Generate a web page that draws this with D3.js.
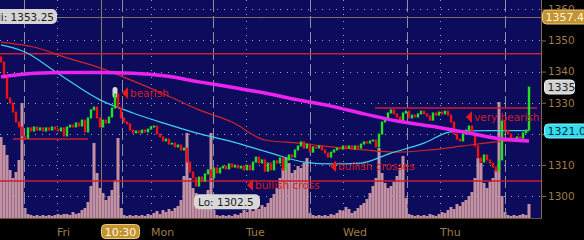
<!DOCTYPE html>
<html>
<head>
<meta charset="utf-8">
<script src="https://cdn.jsdelivr.net/npm/d3@7"></script>
<style>
html, body { margin: 0; padding: 0; background: #000; }
svg { display: block; font-family: "DejaVu Sans", sans-serif; }
</style>
</head>
<body>
<script>
// price bars (closes), one per bar, plus the open of the very first bar
var firstOpen = 1344.7;
var closes = [
  1343.1, 1337.9, 1331.5, 1329.9, 1327.0, 1323.8, 1322.2, 1319.3, 1318.6, 1321.9,
  1320.9, 1322.2, 1321.2, 1321.9, 1320.9, 1321.9, 1321.2, 1322.2, 1321.5, 1320.9,
  1321.9, 1319.3, 1322.2, 1322.8, 1322.2, 1323.5, 1322.5, 1324.4, 1320.6, 1325.1,
  1327.7, 1328.6, 1325.1, 1322.2, 1324.4, 1323.5, 1325.4, 1328.3, 1332.8, 1328.3,
  1325.1, 1323.8, 1323.2, 1321.2, 1320.3, 1320.9, 1320.3, 1321.2, 1320.6, 1321.5,
  1322.2, 1322.5, 1319.9, 1319.0, 1317.7, 1318.3, 1316.7, 1317.0, 1315.8, 1316.4,
  1314.8, 1315.4, 1310.9, 1307.7, 1305.8, 1303.2, 1306.1, 1304.8, 1307.1, 1308.4,
  1305.8, 1309.0, 1307.4, 1309.0, 1309.6, 1308.7, 1310.3, 1309.3, 1309.9, 1309.0,
  1309.6, 1308.4, 1309.9, 1308.4, 1310.9, 1312.5, 1310.6, 1311.6, 1308.0, 1310.6,
  1308.4, 1311.3, 1310.6, 1312.2, 1308.4, 1311.6, 1313.2, 1312.5, 1314.8, 1316.1,
  1317.4, 1315.4, 1316.7, 1314.1, 1315.8, 1315.4, 1316.1, 1314.8, 1313.8, 1312.5,
  1314.1, 1314.8, 1315.4, 1315.1, 1316.1, 1315.4, 1316.1, 1315.1, 1316.1, 1315.4,
  1316.7, 1317.4, 1317.0, 1317.7, 1318.0, 1315.8, 1319.9, 1323.8, 1324.8, 1326.7,
  1327.7, 1326.4, 1325.4, 1324.1, 1326.7, 1327.3, 1325.1, 1326.0, 1325.4, 1326.4,
  1327.3, 1326.4, 1325.7, 1324.4, 1326.7, 1326.0, 1327.0, 1326.4, 1327.3, 1326.0,
  1323.8, 1319.9, 1318.3, 1317.7, 1319.9, 1321.2, 1322.5, 1319.9, 1316.1, 1312.2,
  1310.9, 1313.2, 1311.6, 1310.6, 1309.3, 1308.0, 1311.6, 1324.1, 1321.2, 1319.9,
  1318.6, 1317.7, 1319.0, 1318.6, 1320.3, 1321.2, 1335.0
];
var volumes = [
  81, 73, 63, 48, 40, 46, 58, 115, 10, 4,
  3, 2, 3, 2, 3, 2, 3, 2, 3, 4,
  3, 4, 4, 3, 6, 4, 5, 8, 10, 16,
  32, 75, 45, 30, 25, 18, 22, 28, 38, 80,
  10, 3, 2, 3, 2, 3, 2, 3, 2, 4,
  3, 5, 7, 4, 8, 6, 9, 7, 10, 12,
  18, 42, 85, 40, 30, 25, 20, 18, 22, 28,
  85, 8, 3, 2, 3, 2, 3, 2, 4, 3,
  5, 8, 6, 10, 7, 11, 9, 13, 11, 15,
  20, 24, 30, 40, 50, 60, 55, 45, 48, 52,
  50, 55, 60, 5, 3, 2, 3, 2, 3, 2,
  4, 3, 5, 8, 7, 11, 9, 5, 7, 10,
  13, 15, 19, 25, 32, 40, 70, 45, 35, 30,
  32, 36, 42, 50, 62, 20, 4, 3, 2, 3,
  2, 3, 2, 4, 3, 2, 4, 6, 5, 8,
  11, 9, 14, 12, 16, 18, 22, 26, 40, 60,
  55, 35, 30, 36, 40, 48, 116, 22, 6, 3,
  2, 3, 2, 3, 4, 3, 14
];

// moving averages, sampled at bar indices
var slowIdx = [0, 11, 22, 33, 44, 55, 66, 77, 88, 99, 110, 121, 132, 143, 154, 165, 176];
var slowMA  = [1338.3, 1339.5, 1339.7, 1339.7, 1339.5, 1338.6, 1336.7, 1335.0, 1333.1, 1330.9, 1328.9, 1326.4, 1324.1, 1322.5, 1320.6, 1318.6, 1317.7];
var midIdx  = [0, 11, 22, 33, 44, 55, 66, 77, 88, 99, 110, 121, 132, 143, 154, 165, 176];
var midMA   = [1349.5, 1347.9, 1344.4, 1341.2, 1337.0, 1332.5, 1327.7, 1323.8, 1318.0, 1317.0, 1315.8, 1314.8, 1314.1, 1314.8, 1316.1, 1317.4, 1318.0];
var fastIdx = [0, 8, 19, 33, 44, 54, 65, 76, 90, 101, 110, 120, 130, 141, 150, 163, 176];
var fastMA  = [1348.6, 1346.3, 1339.4, 1330.9, 1326.7, 1323.5, 1320.3, 1317.7, 1313.8, 1310.9, 1310.3, 1310.6, 1313.8, 1317.0, 1320.6, 1321.0, 1321.0];

// y axis
var priceTicks = [1300, 1310, 1320, 1330, 1340, 1350, 1360];

// x axis: day starts, session closes, crosshair
var dayNames = ['Fri', 'Mon', 'Tue', 'Wed', 'Thu'];
var dayIdx = [18.67, 50, 81.67, 114, 146.33];
var closeIdx = [7.67, 40.33, 70.67, 103, 135.33, 168];
var crossIdx = 33.33, crossTime = '10:30', crossPrice = 1357.4;

// horizontal levels
var levels = [1345.7, 1304.8];
var segLevels = [[4, 29, 1318.3], [124.7, 178.7, 1328.3]];

// annotations
var noteText = ['bearish', 'bullish cross', 'bullish crosses', 'very bearish'];
var noteIdx = [40.33, 82, 109.7, 155];
var notePrice = [1333.1, 1303.5, 1309.6, 1325.4];

var hiText = 'Hi: 1353.25', loText = 'Lo: 1302.5', loIdx = 65, loPrice = 1302.5;
var lastPrice = 1335, fastLast = 1321.0;
var markIdx = [38];

var W = 584, H = 240, PR = 541, PB = 218;
var svg = d3.select('body').append('svg').attr('width', W).attr('height', H);

var x = d3.scaleLinear().domain([0, 176]).range([1, 529]);
var y = d3.scaleLinear().domain([1300, 1360]).range([196, 9.4]);
var yv = d3.scaleLinear().domain([0, 120]).range([PB, 98]);

svg.append('rect').attr('width', W).attr('height', H).attr('fill', '#000');
svg.append('rect').attr('width', PR).attr('height', PB).attr('fill', '#0c0b5c');

svg.append('clipPath').attr('id', 'plot').append('rect').attr('width', PR).attr('height', PB);
var g = svg.append('g').attr('clip-path', 'url(#plot)');

// volume
g.selectAll('rect.vol').data(volumes).enter().append('rect')
  .attr('class', 'vol')
  .attr('x', function (d, i) { return x(i) - 1.5; })
  .attr('width', 3)
  .attr('y', function (d) { return yv(d); })
  .attr('height', function (d) { return PB - yv(d); })
  .attr('fill', '#c3909f');

// dotted grid
g.selectAll('line.hg').data(priceTicks).enter().append('line')
  .attr('x1', 0).attr('x2', PR)
  .attr('y1', function (d) { return Math.round(y(d)) + 0.5; })
  .attr('y2', function (d) { return Math.round(y(d)) + 0.5; })
  .attr('stroke', '#a0a0c0').attr('stroke-dasharray', '1,6');
g.selectAll('line.vg').data(dayIdx).enter().append('line')
  .attr('x1', function (d) { return Math.round(x(d)) + 0.5; })
  .attr('x2', function (d) { return Math.round(x(d)) + 0.5; })
  .attr('y1', 0).attr('y2', PB)
  .attr('stroke', '#a0a0c0').attr('stroke-dasharray', '1,6');
g.selectAll('line.cg').data(closeIdx).enter().append('line')
  .attr('x1', function (d) { return Math.round(x(d)) + 0.5; })
  .attr('x2', function (d) { return Math.round(x(d)) + 0.5; })
  .attr('y1', 0).attr('y2', PB)
  .attr('stroke', '#8e8e9c').attr('stroke-dasharray', '12,4');

// crosshair
g.append('line').attr('x1', Math.round(x(crossIdx)) + 0.5).attr('x2', Math.round(x(crossIdx)) + 0.5)
  .attr('y1', 0).attr('y2', PB).attr('stroke', '#8a7a6c');
g.append('line').attr('x1', 0).attr('x2', PR)
  .attr('y1', Math.round(y(crossPrice)) + 0.5).attr('y2', Math.round(y(crossPrice)) + 0.5)
  .attr('stroke', '#7e6e6a');

// levels
g.selectAll('line.lv').data(levels).enter().append('line')
  .attr('x1', 0).attr('x2', PR)
  .attr('y1', function (d) { return y(d); }).attr('y2', function (d) { return y(d); })
  .attr('stroke', '#c81e30').attr('stroke-width', 1.5);
g.selectAll('line.sl').data(segLevels).enter().append('line')
  .attr('x1', function (d) { return x(d[0]); }).attr('x2', function (d) { return x(d[1]); })
  .attr('y1', function (d) { return y(d[2]); }).attr('y2', function (d) { return y(d[2]); })
  .attr('stroke', '#c81e30').attr('stroke-width', 1.5);

// moving averages
function maLine(idx, vals, color, w) {
  var line = d3.line()
    .x(function (d, i) { return x(idx[i]); })
    .y(function (d) { return y(d); })
    .curve(d3.curveMonotoneX);
  g.append('path').datum(vals).attr('d', line)
    .attr('fill', 'none').attr('stroke', color).attr('stroke-width', w);
}
maLine(midIdx, midMA, '#d42424', 1.2);
maLine(fastIdx, fastMA, '#40d0f0', 1.2);

// highlight behind bar
g.selectAll('rect.mk').data(markIdx).enter().append('rect')
  .attr('x', function (d) { return x(d) - 2.5; })
  .attr('y', function (d) { return y(closes[d]) - 7; })
  .attr('width', 5).attr('height', 11).attr('rx', 2.5)
  .attr('fill', '#d8d8d8');

// candles
function openOf(i) { return i ? closes[i - 1] : firstOpen; }
g.selectAll('rect.bar').data(closes).enter().append('rect')
  .attr('class', 'bar')
  .attr('x', function (d, i) { return x(i) - 1.2; })
  .attr('width', 2.4)
  .attr('y', function (d, i) { return y(Math.max(openOf(i), d)) - 0.5; })
  .attr('height', function (d, i) { return Math.max(2, Math.abs(y(openOf(i)) - y(d)) + 1); })
  .attr('fill', function (d, i) { return d >= openOf(i) ? '#22e022' : '#f01212'; });

maLine(slowIdx, slowMA, '#ee22ee', 3.5);

// annotations
var notes = g.selectAll('g.note').data(noteText).enter().append('g')
  .attr('transform', function (d, i) { return 'translate(' + x(noteIdx[i]) + ',' + y(notePrice[i]) + ')'; });
notes.append('path').attr('d', 'M0,0L6,-6L6,6Z').attr('fill', '#e01a1a');
notes.append('text').attr('x', 8).attr('y', 4).attr('font-size', 10.5)
  .attr('fill', '#d81c1c').text(function (d) { return d; });

// hi / lo labels
svg.append('rect').attr('x', -20).attr('y', 9).attr('width', 77).attr('height', 15).attr('rx', 5)
  .attr('fill', '#d4d4d4');
svg.append('text').attr('x', 54).attr('y', 21).attr('text-anchor', 'end')
  .attr('font-size', 10.5).attr('fill', '#1a1a1a').text(hiText);
var lx = x(loIdx) - 2, ly = y(loPrice) + 6;
svg.append('rect').attr('x', lx).attr('y', ly).attr('width', 66).attr('height', 15).attr('rx', 5)
  .attr('fill', '#d8d8d8');
svg.append('text').attr('x', lx + 4).attr('y', ly + 12)
  .attr('font-size', 10.5).attr('fill', '#1a1a1a').text(loText);

// frame
svg.append('line').attr('x1', PR + 0.5).attr('x2', PR + 0.5).attr('y1', 0).attr('y2', PB + 1)
  .attr('stroke', '#8a6a3a');
svg.append('line').attr('x1', 0).attr('x2', PR + 1).attr('y1', PB + 0.5).attr('y2', PB + 0.5)
  .attr('stroke', '#6a5030');

// right axis
var yAxis = d3.axisRight(y).tickValues(priceTicks).tickSize(4).tickPadding(2).tickFormat(d3.format('d'));
var ya = svg.append('g').attr('transform', 'translate(' + (PR + 1) + ',0)').call(yAxis);
ya.select('.domain').remove();
ya.selectAll('line').attr('stroke', '#8a6a3a');
ya.selectAll('text').attr('fill', '#9c7c48').attr('font-size', 10.5)
  .attr('font-family', '"DejaVu Sans", sans-serif');

// price tags on the right
function tag(val, txt, x0, w, fill, stroke, color) {
  var ty = Math.round(y(val));
  svg.append('rect').attr('x', x0).attr('y', ty - 7).attr('width', w).attr('height', 14).attr('rx', 4)
    .attr('fill', fill).attr('stroke', stroke);
  svg.append('text').attr('x', x0 + 3).attr('y', ty + 4).attr('font-size', 11)
    .attr('fill', color).text(txt);
}
tag(crossPrice, d3.format('.1f')(crossPrice), 542.5, 46, '#c39232', '#ecc878', '#fff6dc');
tag(lastPrice, d3.format('d')(lastPrice), 544.5, 30, '#d2d2d2', '#f0f0f0', '#222');
tag(fastLast, d3.format('.1f')(fastLast), 544.5, 44, '#34dcee', '#8af0ff', '#06283a');

// bottom axis labels
svg.selectAll('text.day').data(dayNames).enter().append('text')
  .attr('x', function (d, i) { return x(dayIdx[i]); })
  .attr('y', 236).attr('font-size', 11).attr('fill', '#9c7c48')
  .text(function (d) { return d; });
var cx = Math.round(x(crossIdx));
svg.append('rect').attr('x', cx + 0.5).attr('y', 224.5).attr('width', 38).attr('height', 14).attr('rx', 4)
  .attr('fill', '#c39232').attr('stroke', '#ecc878');
svg.append('text').attr('x', cx + 19.5).attr('y', 235.5).attr('text-anchor', 'middle')
  .attr('font-size', 11).attr('fill', '#fff6dc').text(crossTime);
</script>
</body>
</html>
